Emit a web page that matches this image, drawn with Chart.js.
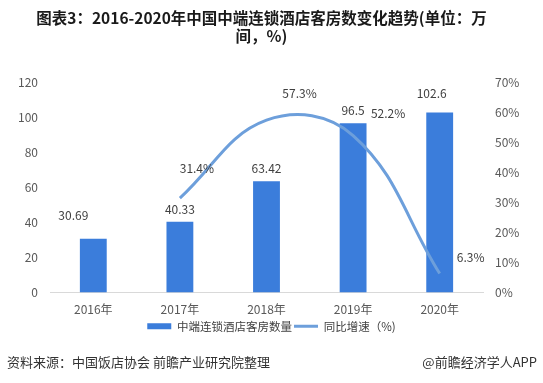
<!DOCTYPE html>
<html>
<head>
<meta charset="utf-8">
<script src="https://cdn.jsdelivr.net/npm/chart.js@4.4.1/dist/chart.umd.min.js"></script>
<style>
  html, body { margin: 0; padding: 0; background: #ffffff; }
  #wrap { position: relative; width: 543px; height: 383px; overflow: hidden; background: #fff; }
  #c { position: absolute; left: 0; top: 0; }
  .foot { position: absolute; font-family: "Noto Sans CJK SC", sans-serif; font-size: 13px; color: #333; line-height: 16px; white-space: nowrap; }
  #title { position: absolute; left: 0; top: 8px; width: 523px; text-align: center; font-family: "Noto Sans CJK SC", sans-serif; font-weight: bold; font-size: 15.5px; line-height: 18px; color: #1a1a1a; }
</style>
</head>
<body>
<div id="wrap">
  <canvas id="c" width="543" height="383"></canvas>
  <div id="title"></div>
  <div class="foot" style="left:7px; top:354px;">资料来源：中国饭店协会 前瞻产业研究院整理</div>
  <div class="foot" style="right:6px; top:354px;">@前瞻经济学人APP</div>
</div>
<script>
const categories = ["2016年", "2017年", "2018年", "2019年", "2020年"];
const roomCounts = [30.69, 40.33, 63.42, 96.5, 102.6];
const growthRates = [null, 31.4, 57.3, 52.2, 6.3];
const roomLabels = ["30.69", "40.33", "63.42", "96.5", "102.6"];
const growthLabels = ["", "31.4%", "57.3%", "52.2%", "6.3%"];
const seriesNames = ["中端连锁酒店客房数量", "同比增速（%)"];
const titleLines = ["图表3：2016-2020年中国中端连锁酒店客房数变化趋势(单位：万", "间，%)"];

document.getElementById('title').innerHTML = titleLines.map(t => '<div>' + t + '</div>').join('');

const FONT = '"Noto Sans CJK SC", "Noto Sans", sans-serif';
const BAR_COLOR = '#3b7ddb';
const LINE_COLOR = '#6d9fdb';

const labelPlugin = {
  id: 'valueLabels',
  afterDatasetsDraw(chart) {
    const ctx = chart.ctx;
    ctx.save();
    ctx.font = '12px ' + FONT;
    ctx.fillStyle = '#404040';
    ctx.textAlign = 'center';
    ctx.textBaseline = 'middle';
    // offsets imitate the reference label placement (style only)
    const barOff = [[-20, -23], [0, -12], [0, -13], [0, -13], [-8, -19]];
    const lineOff = [[0, 0], [17, -30], [33, -27], [35, -22], [31, -16]];
    chart.getDatasetMeta(0).data.forEach((el, i) => {
      ctx.fillText(roomLabels[i], el.x + barOff[i][0], el.y + barOff[i][1]);
    });
    chart.getDatasetMeta(1).data.forEach((el, i) => {
      if (growthRates[i] === null) return;
      ctx.fillText(growthLabels[i], el.x + lineOff[i][0], el.y + lineOff[i][1]);
    });
    ctx.restore();
  }
};

new Chart(document.getElementById('c'), {
  data: {
    labels: categories,
    datasets: [
      {
        type: 'bar',
        label: seriesNames[0],
        data: roomCounts,
        backgroundColor: BAR_COLOR,
        borderWidth: 0,
        yAxisID: 'y',
        order: 2,
        categoryPercentage: 1.0,
        barPercentage: 0.31
      },
      {
        type: 'line',
        label: seriesNames[1],
        data: growthRates,
        borderColor: LINE_COLOR,
        backgroundColor: LINE_COLOR,
        borderWidth: 3,
        pointRadius: 0,
        pointHoverRadius: 0,
        pointStyle: 'line',
        tension: 0.4,
        fill: false,
        yAxisID: 'y1',
        order: 1
      }
    ]
  },
  options: {
    responsive: false,
    animation: false,
    devicePixelRatio: 1,
    layout: { padding: { top: 82, left: 0, right: 0, bottom: 41 } },
    plugins: {
      tooltip: { enabled: false },
      title: { display: false },
      legend: {
        position: 'bottom',
        labels: {
          font: { family: FONT, size: 11.5 },
          color: '#404040',
          usePointStyle: true,
          pointStyleWidth: 24,
          boxHeight: 6,
          padding: 2,
          sort: (a, b) => a.datasetIndex - b.datasetIndex,
          generateLabels(chart) {
            const items = Chart.defaults.plugins.legend.labels.generateLabels(chart);
            items.forEach(it => {
              if (it.datasetIndex === 0) { it.pointStyle = 'rect'; it.lineWidth = 0; it.fillStyle = BAR_COLOR; it.strokeStyle = BAR_COLOR; }
              else { it.pointStyle = 'line'; it.lineWidth = 3; it.strokeStyle = LINE_COLOR; }
            });
            return items;
          }
        }
      }
    },
    scales: {
      x: {
        grid: { display: false, drawTicks: false },
        border: { display: true, color: '#d9d9d9', width: 1 },
        ticks: { color: '#595959', font: { family: FONT, size: 12 }, padding: 10 },
        afterFit(s) { s.height = 26; }
      },
      y: {
        position: 'left',
        min: 0, max: 120,
        grid: { display: false, drawTicks: false },
        border: { display: false },
        ticks: { stepSize: 20, color: '#595959', font: { family: FONT, size: 12 }, padding: 12 },
        afterFit(s) { s.width = 50; }
      },
      y1: {
        position: 'right',
        min: 0, max: 70,
        grid: { display: false, drawTicks: false },
        border: { display: false },
        ticks: { stepSize: 10, color: '#595959', font: { family: FONT, size: 12 }, padding: 12,
          callback: v => v + '%' },
        afterFit(s) { s.width = 60; }
      }
    }
  },
  plugins: [labelPlugin]
});
</script>
</body>
</html>
